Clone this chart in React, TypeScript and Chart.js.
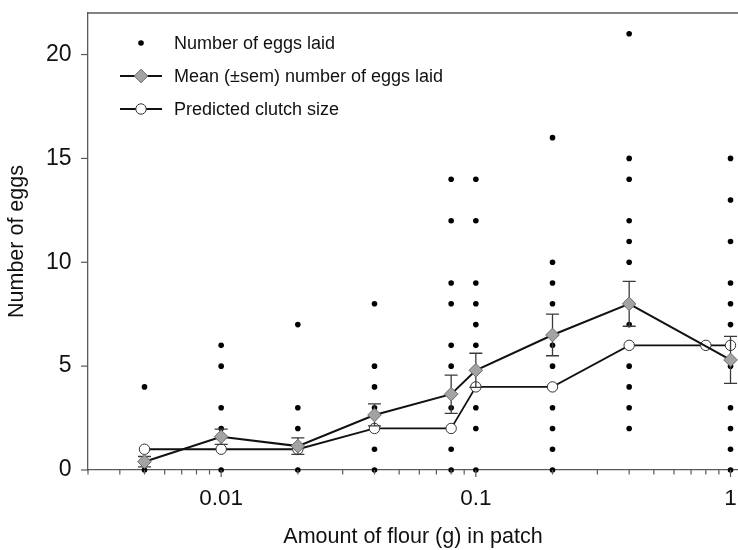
import { useEffect, useRef } from "react";
import { Chart, registerables } from "chart.js";

Chart.register(...registerables);

// ---- data ----
const flourLevels = [0.005, 0.01, 0.02, 0.04, 0.08, 0.1, 0.2, 0.4, 1];
const eggsLaid = [
  [4, 0],
  [6, 5, 3, 2, 0],
  [7, 3, 2, 0],
  [8, 5, 4, 3, 2, 1, 0],
  [14, 12, 9, 8, 6, 5, 3, 1, 0],
  [14, 12, 9, 8, 7, 6, 3, 2, 0],
  [16, 10, 9, 8, 6, 5, 3, 2, 1, 0],
  [21, 15, 14, 12, 11, 10, 7, 5, 4, 3, 2],
  [15, 13, 11, 9, 8, 7, 5, 3, 2, 1, 0],
];
const meanEggs = [0.4, 1.6, 1.15, 2.65, 3.65, 4.8, 6.5, 8.0, 5.3];
const semEggs = [0.25, 0.37, 0.4, 0.53, 0.92, 0.82, 1.0, 1.08, 1.13];
const predictedFlour = [0.005, 0.01, 0.02, 0.04, 0.08, 0.1, 0.2, 0.4, 0.8, 1];
const predictedClutch = [1, 1, 1, 2, 2, 4, 4, 6, 6, 6];

const xMajorTicks = [0.01, 0.1, 1];
const xMajorLabels = ["0.01", "0.1", "1"];
const yTicks = [0, 5, 10, 15, 20];

const seriesLabels = [
  "Number of eggs laid",
  "Mean (\u00b1sem) number of eggs laid",
  "Predicted clutch size",
];

const FONT = "'Liberation Sans', Arial, sans-serif";
const AXIS_COLOR = "#5a5a5a";

const isMajor = (v: number) => xMajorTicks.some((m) => Math.abs(v - m) / m < 1e-6);

const decorPlugin = {
  id: "decor",
  beforeDatasetDraw(chart: any, args: any) {
    if (args.index !== 1) return;
    const ctx = chart.ctx;
    const xs = chart.scales.x;
    const ys = chart.scales.y;
    ctx.save();
    ctx.strokeStyle = "#3a3a3a";
    ctx.lineWidth = 1.3;
    flourLevels.forEach((f, i) => {
      const x = xs.getPixelForValue(f);
      const yt = ys.getPixelForValue(meanEggs[i] + semEggs[i]);
      const yb = ys.getPixelForValue(Math.max(0, meanEggs[i] - semEggs[i]));
      ctx.beginPath();
      ctx.moveTo(x, yt);
      ctx.lineTo(x, yb);
      ctx.moveTo(x - 6.5, yt);
      ctx.lineTo(x + 6.5, yt);
      ctx.moveTo(x - 6.5, yb);
      ctx.lineTo(x + 6.5, yb);
      ctx.stroke();
    });
    ctx.restore();
  },
  afterDraw(chart: any) {
    const ctx = chart.ctx;
    const area = chart.chartArea;
    const xs = chart.scales.x;
    const ys = chart.scales.y;
    ctx.save();
    ctx.strokeStyle = AXIS_COLOR;
    ctx.lineWidth = 1.3;
    // top frame line
    ctx.beginPath();
    ctx.moveTo(area.left, area.top);
    ctx.lineTo(area.right, area.top);
    ctx.stroke();
    // x tick marks
    ctx.lineWidth = 1.2;
    xs.ticks.forEach((t: any) => {
      const x = xs.getPixelForValue(t.value);
      if (x > area.right - 1) return;
      const len = isMajor(t.value) ? 7 : 4.5;
      ctx.beginPath();
      ctx.moveTo(x, area.bottom);
      ctx.lineTo(x, area.bottom + len);
      ctx.stroke();
    });
    // y tick marks
    ys.ticks.forEach((t: any) => {
      const y = ys.getPixelForValue(t.value);
      ctx.beginPath();
      ctx.moveTo(area.left - 7, y);
      ctx.lineTo(area.left, y);
      ctx.stroke();
    });

    // legend
    const ds = chart.data.datasets;
    const mx = area.left + 53;
    const tx = area.left + 86;
    const rows = [area.top + 30, area.top + 63, area.top + 96];
    ctx.font = `18px ${FONT}`;
    ctx.textBaseline = "alphabetic";
    ctx.textAlign = "left";
    rows.forEach((ry, i) => {
      const d = ds[i];
      if (d.showLine) {
        ctx.strokeStyle = d.borderColor;
        ctx.lineWidth = d.borderWidth;
        ctx.beginPath();
        ctx.moveTo(mx - 21, ry);
        ctx.lineTo(mx + 21, ry);
        ctx.stroke();
      }
      ctx.fillStyle = d.pointBackgroundColor;
      ctx.strokeStyle = d.pointBorderColor;
      ctx.lineWidth = d.pointBorderWidth;
      const r = d.pointRadius;
      ctx.beginPath();
      if (d.pointStyle === "rectRot") {
        ctx.moveTo(mx - r, ry);
        ctx.lineTo(mx, ry - r);
        ctx.lineTo(mx + r, ry);
        ctx.lineTo(mx, ry + r);
        ctx.closePath();
      } else {
        ctx.arc(mx, ry, r, 0, Math.PI * 2);
      }
      ctx.fill();
      if (d.pointBorderWidth) ctx.stroke();
      ctx.fillStyle = "#111";
      ctx.fillText(d.label, tx, ry + 6.4);
    });
    ctx.restore();
  },
};

export default function App() {
  const ref = useRef<HTMLCanvasElement | null>(null);
  useEffect(() => {
    if (!ref.current) return;
    const dotPoints = flourLevels.flatMap((f, i) => eggsLaid[i].map((v) => ({ x: f, y: v })));
    const meanPoints = flourLevels.map((f, i) => ({ x: f, y: meanEggs[i] }));
    const predPoints = predictedFlour.map((f, i) => ({ x: f, y: predictedClutch[i] }));
    const chart = new Chart(ref.current, {
      type: "scatter",
      data: {
        datasets: [
          {
            label: seriesLabels[0],
            data: dotPoints,
            showLine: false,
            pointStyle: "circle",
            pointRadius: 2.8,
            pointBackgroundColor: "#000",
            pointBorderColor: "#000",
            pointBorderWidth: 0,
            order: 3,
            clip: false,
          },
          {
            label: seriesLabels[1],
            data: meanPoints,
            showLine: true,
            borderColor: "#111",
            borderWidth: 2,
            pointStyle: "rectRot",
            pointRadius: 6.8,
            pointBackgroundColor: "#a3a3a3",
            pointBorderColor: "#6a6a6a",
            pointBorderWidth: 1,
            order: 1,
            clip: false,
          },
          {
            label: seriesLabels[2],
            data: predPoints,
            showLine: true,
            borderColor: "#111",
            borderWidth: 1.8,
            pointStyle: "circle",
            pointRadius: 5.2,
            pointBackgroundColor: "#fff",
            pointBorderColor: "#333",
            pointBorderWidth: 1,
            order: 2,
            clip: false,
          },
        ] as any,
      },
      options: {
        animation: false,
        responsive: false,
        devicePixelRatio: 1,
        layout: { autoPadding: false, padding: { top: 13, right: 0, left: 0, bottom: 0 } },
        plugins: { legend: { display: false }, tooltip: { enabled: false } },
        scales: {
          x: {
            type: "logarithmic",
            min: 0.003,
            max: 1.07,
            afterBuildTicks: (scale: any) => {
              scale.ticks = scale.ticks.filter((t: any) => {
                const e = Math.floor(Math.log10(t.value) + 1e-9);
                const s = t.value / Math.pow(10, e);
                return Math.abs(s - Math.round(s)) < 1e-6 && t.value <= 1.0000001;
              });
            },
            afterFit: (scale: any) => {
              scale.height = 80;
              scale.paddingLeft = 0;
              scale.paddingRight = 0;
              scale.paddingTop = 0;
              scale.paddingBottom = 0;
            },
            grid: { display: false, drawTicks: false, drawOnChartArea: false },
            border: { display: true, color: AXIS_COLOR, width: 1.3 },
            ticks: {
              autoSkip: false,
              maxRotation: 0,
              padding: 15,
              color: "#111",
              font: { family: FONT, size: 22.5 },
              callback: (v: any) => {
                const idx = xMajorTicks.findIndex((m) => Math.abs(Number(v) - m) / m < 1e-6);
                return idx >= 0 ? xMajorLabels[idx] : "";
              },
            },
            title: {
              display: true,
              text: "Amount of flour (g) in patch",
              color: "#111",
              font: { family: FONT, size: 21.5 },
              padding: { top: 0, bottom: 0 },
            },
          },
          y: {
            type: "linear",
            min: 0,
            max: 22,
            afterBuildTicks: (scale: any) => {
              scale.ticks = yTicks.map((v) => ({ value: v }));
            },
            afterFit: (scale: any) => {
              scale.width = 88;
              scale.paddingLeft = 0;
              scale.paddingRight = 0;
              scale.paddingTop = 0;
              scale.paddingBottom = 0;
            },
            grid: { display: false, drawTicks: false, drawOnChartArea: false },
            border: { display: true, color: AXIS_COLOR, width: 1.3 },
            ticks: {
              padding: 16.5,
              color: "#111",
              font: { family: FONT, size: 23 },
              callback: (v: any) => String(v),
            },
            title: {
              display: true,
              text: "Number of eggs",
              color: "#111",
              font: { family: FONT, size: 21.5 },
              padding: { top: 4, bottom: 0 },
            },
          },
        },
      },
      plugins: [decorPlugin],
    });
    return () => chart.destroy();
  }, []);
  return (
    <div style={{ position: "fixed", left: 0, top: 0, width: 738, height: 550, background: "#fff" }}>
      <canvas ref={ref} width={738} height={550} style={{ display: "block" }} />
    </div>
  );
}
